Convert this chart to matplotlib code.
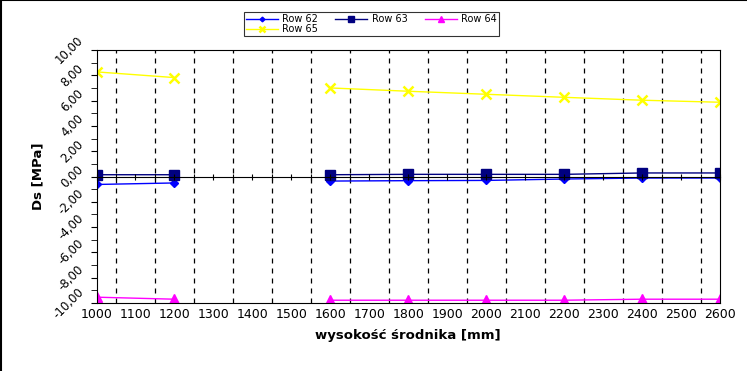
import numpy as np
import matplotlib
matplotlib.use("Agg")
import matplotlib.pyplot as plt
from matplotlib.ticker import MultipleLocator, FixedLocator, FuncFormatter
from matplotlib.lines import Line2D

# dane (1400 brak pomiaru)
wysokosc = [1000, 1200, 1400, 1600, 1800, 2000, 2200, 2400, 2600]
row62 = [-0.63, -0.51, np.nan, -0.36, -0.33, -0.31, -0.20, -0.12, -0.12]
row63 = [0.14, 0.14, np.nan, 0.14, 0.17, 0.17, 0.17, 0.28, 0.28]
row64 = [-9.54, -9.70, np.nan, -9.78, -9.78, -9.78, -9.78, -9.70, -9.70]
row65 = [8.27, 7.82, np.nan, 7.00, 6.74, 6.50, 6.26, 6.03, 5.87]
nazwy = ["Row 62", "Row 63", "Row 64", "Row 65"]

fig = plt.figure(figsize=(7.47, 3.71), dpi=100)
ax = fig.add_axes([96.5 / 747, 1 - 303 / 371, (720 - 96.5) / 747, (303 - 50) / 371])

l62, = ax.plot(wysokosc, row62, color="#0000ff", lw=1, marker="D", ms=4, label=nazwy[0])
l63, = ax.plot(wysokosc, row63, color="#000080", lw=1, marker="s", ms=6.5, label=nazwy[1])
l64, = ax.plot(wysokosc, row64, color="#ff00ff", lw=1, marker="^", ms=7, label=nazwy[2])
l65, = ax.plot(wysokosc, row65, color="#ffff00", lw=1, marker="x", ms=7, mew=1.8, label=nazwy[3])

ax.set_xlim(1000, 2600)
ax.set_ylim(-10, 10)
ax.xaxis.set_major_locator(MultipleLocator(100))
ax.xaxis.set_minor_locator(FixedLocator(np.arange(1050, 2600, 100)))
ax.grid(True, which="minor", axis="x", color="black", ls=(0, (4, 4)), lw=0.9)
ax.yaxis.set_major_locator(MultipleLocator(2))
ax.yaxis.set_minor_locator(MultipleLocator(1))
ax.yaxis.set_major_formatter(FuncFormatter(lambda v, p: "{:.2f}".format(v).replace(".", ",")))
ax.tick_params(axis="y", which="both", direction="out", length=4, labelsize=8.5, rotation=45)
ax.tick_params(axis="x", which="major", direction="in", length=0, labelsize=9)
ax.tick_params(axis="x", which="minor", length=0)
for lab in ax.get_yticklabels():
    lab.set_ha("right")
    lab.set_va("center")

# os zero z kreskami
ax2 = ax.twiny()
ax2.set_xlim(ax.get_xlim())
ax2.spines["top"].set_visible(False)
ax2.spines["bottom"].set_position(("data", 0))
ax2.xaxis.set_ticks_position("bottom")
ax2.xaxis.set_major_locator(MultipleLocator(50))
ax2.tick_params(axis="x", direction="inout", length=4, width=0.8, labelbottom=False)
for s in ["left", "right"]:
    ax2.spines[s].set_visible(False)

ax.set_xlabel("wysokość środnika [mm]", fontsize=9.5, fontweight="bold", labelpad=6)
ax.set_ylabel("Ds [MPa]", fontsize=9.5, fontweight="bold", labelpad=4)

leg = fig.legend([l62, l65, l63, l64], [nazwy[0], nazwy[3], nazwy[1], nazwy[2]],
                 loc="upper left", bbox_to_anchor=(244 / 747, 1 - 12 / 371),
                 ncol=3, fontsize=7, frameon=True, fancybox=False, edgecolor="black",
                 borderpad=0.2, handlelength=3.3, handletextpad=0.45, columnspacing=1.75,
                 labelspacing=0.05, borderaxespad=0, markerscale=0.6)
leg.get_frame().set_linewidth(0.8)

# ramka obrazka
fig.add_artist(Line2D([0, 1], [0.999, 0.999], color="black", lw=1.5, transform=fig.transFigure))
fig.add_artist(Line2D([0.001, 0.001], [0, 1], color="black", lw=1.5, transform=fig.transFigure))

fig.savefig("out.png", dpi=100)
